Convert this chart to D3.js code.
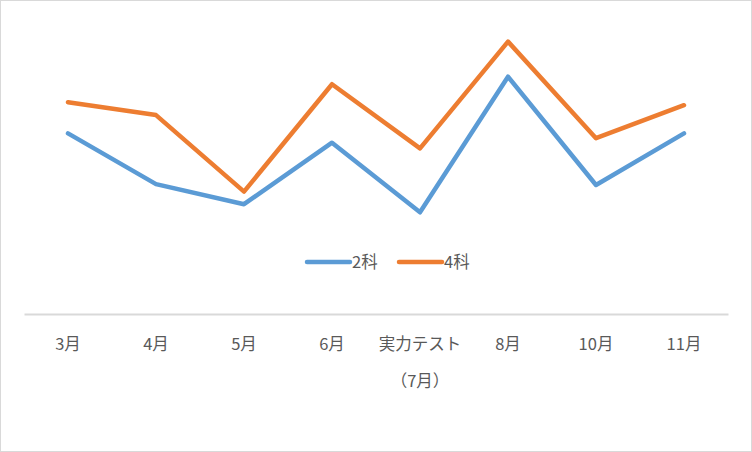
<!DOCTYPE html>
<html><head><meta charset="utf-8">
<script src="https://cdn.jsdelivr.net/npm/d3@7"></script>
<style>
html,body{margin:0;padding:0;background:#fff;}
svg{display:block;}
text{font-family:"Noto Sans CJK JP","Noto Sans",sans-serif;fill:#595959;}
</style></head>
<body>
<script>
const categories = ["3月","4月","5月","6月","実力テスト\n（7月）","8月","10月","11月"];
const series2 = [60.2,43.3,36.6,57.1,33.9,79.1,43.0,60.2];
const series4 = [70.6,66.3,40.8,76.6,55.2,90.8,58.6,69.6];
const seriesNames = ["2科","4科"];
const colors = ["#5b9bd5","#ed7d31"];

const W=752,H=452;
const svg=d3.select("body").append("svg").attr("width",W).attr("height",H);
svg.append("rect").attr("x",0.5).attr("y",0.5).attr("width",W-1).attr("height",H-1)
  .attr("fill","#fff").attr("stroke","#d9d9d9");

const x=d3.scaleBand().domain(categories).range([24,728]);
const y=d3.scaleLinear().domain([0,100]).range([314,14]);

// axis
const ax=svg.append("g").attr("transform","translate(0,314)")
  .call(d3.axisBottom(x).tickSize(0).tickFormat(""));
ax.select(".domain").attr("stroke","#d9d9d9").attr("stroke-width",2);
categories.forEach(c=>{
  const lines=c.split("\n");
  const cx=x(c)+x.bandwidth()/2;
  const t=svg.append("text").attr("text-anchor","middle").attr("font-size",16.5)
    .attr("x",cx).attr("y",350);
  lines.forEach((l,i)=>t.append("tspan").attr("x",cx).attr("dy",i?37:0).text(l));
});

const line=d3.line().x((d,i)=>x(categories[i])+x.bandwidth()/2).y(d=>y(d));
[series2,series4].forEach((s,k)=>{
  svg.append("path").datum(s).attr("d",line).attr("fill","none")
    .attr("stroke",colors[k]).attr("stroke-width",4.5)
    .attr("stroke-linejoin","round").attr("stroke-linecap","round");
});

// legend
const lg=[{x:307},{x:399}];
seriesNames.forEach((n,k)=>{
  svg.append("line").attr("x1",lg[k].x).attr("x2",lg[k].x+43).attr("y1",262).attr("y2",262)
    .attr("stroke",colors[k]).attr("stroke-width",4.5).attr("stroke-linecap","round");
  svg.append("text").attr("x",lg[k].x+45).attr("y",268).attr("font-size",16.5).text(n);
});
</script>
</body></html>
